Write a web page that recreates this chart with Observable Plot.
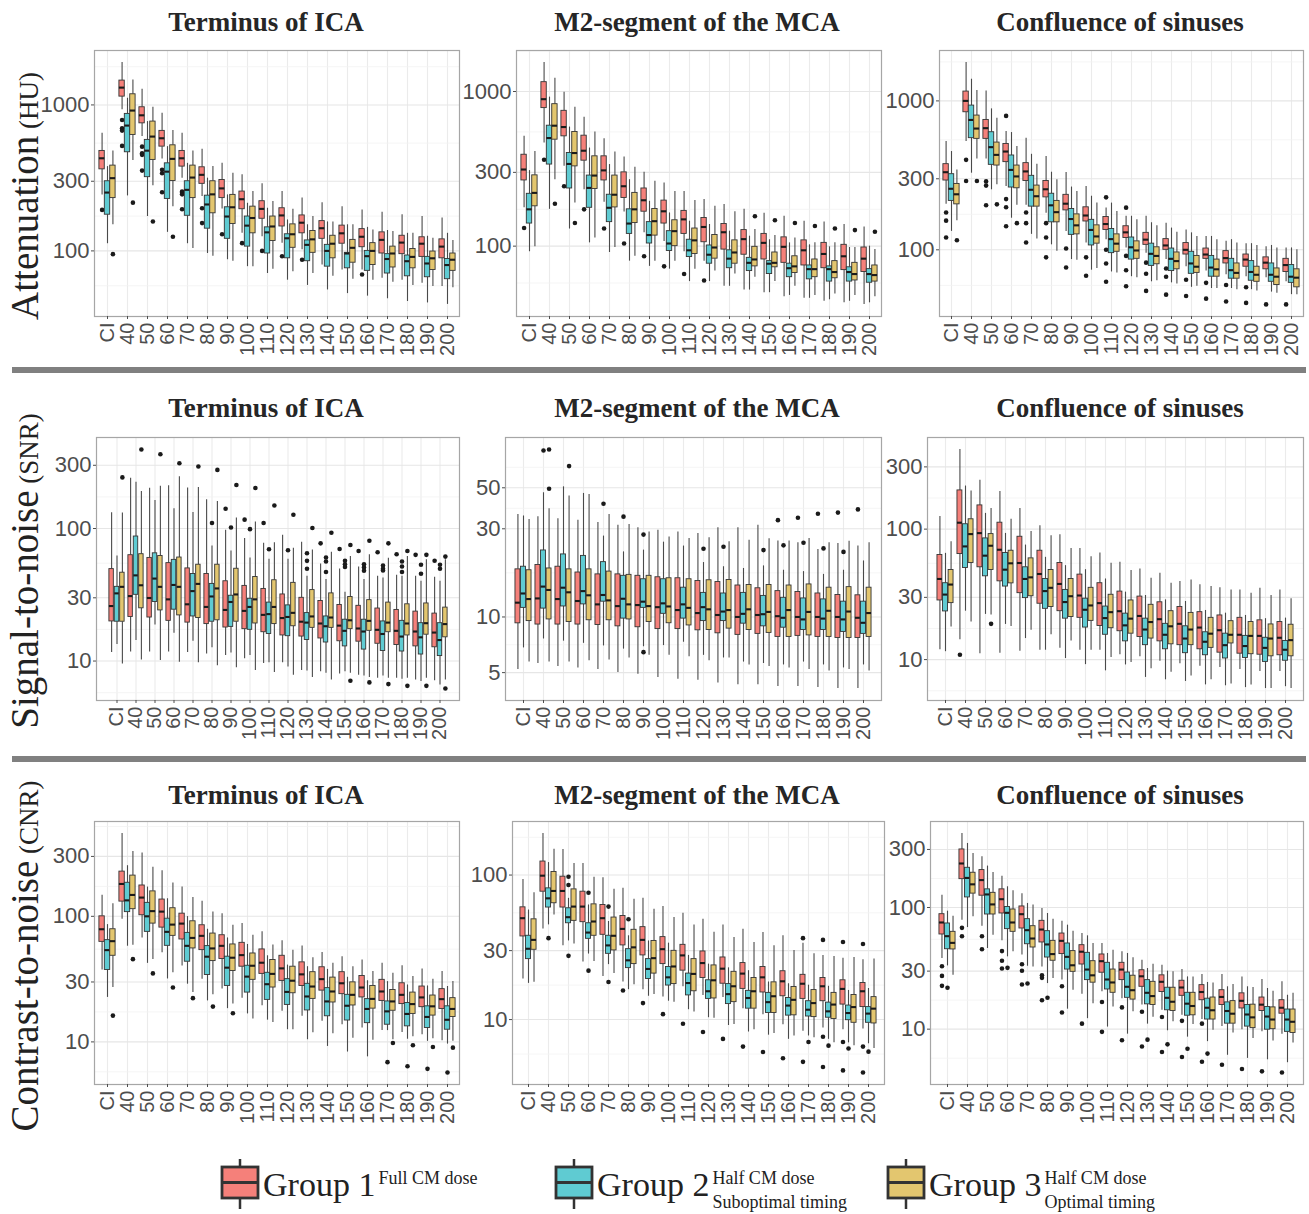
<!DOCTYPE html>
<html><head><meta charset="utf-8">
<script src="https://cdn.jsdelivr.net/npm/d3@7"></script>
<script src="https://cdn.jsdelivr.net/npm/@observablehq/plot@0.6"></script>
<style>
html,body{margin:0;padding:0;background:#fff;}
#root{position:relative;width:1309px;height:1214px;overflow:hidden;background:#fff;}
#root > svg{position:absolute;}
</style></head><body><div id="root"></div>
<script>
const categories = ["CI","40","50","60","70","80","90","100","110","120","130","140","150","160","170","180","190","200"];
const groupNames = ["Group 1","Group 2","Group 3"];
const groupNotes = [["Full CM dose"],["Half CM dose","Suboptimal timing"],["Half CM dose","Optimal timing"]];
const groupColors = ["#F5807A","#5FCBD2","#E3C66F"];
const regions = ["Terminus of ICA","M2-segment of the MCA","Confluence of sinuses"];
const measures = [["Attenuation","(HU)"],["Signal-to-noise","(SNR)"],["Contrast-to-noise","(CNR)"]];
const ticksAtt = [100,300,1000];
const ticksSnrIca = [10,30,100,300];
const ticksSnrMca = [5,10,30,50];
const ticksSnrCos = [10,30,100,300];
const ticksCnrIca = [10,30,100,300];
const ticksCnrMca = [10,30,100];
const ticksCnrCos = [10,30,100,300];

// each row: [lower whisker, Q1, median, Q3, upper whisker] per category
const att_ica_g1 = [[242,362,431,484,640],[925,1140,1314,1468,1950],[607,748,849,964,1280],[427,518,591,664,877],[315,378,431,484,640],[236,288,332,374,497],[194,230,268,306,398],[132,193,226,255,332],[125,166,194,219,288],[113,147,175,196,255],[102,132,156,175,230],[80,121,143,160,214],[74,112,132,149,201],[74,106,125,141,191],[65,96,119,134,184],[63,95,114,127,177],[60,91,112,124,172],[57,89,107,120,168]];
const att_ica_g2 = [[112,177,251,300,378],[238,474,722,868,1111],[172,320,486,576,769],[134,227,349,398,518],[112,174,262,300,398],[96,142,208,239,315],[87,121,172,199,242],[78,107,149,172,212],[70,96,134,145,196],[63,89,122,130,163],[58,85,110,118,151],[54,78,100,110,158],[51,76,96,97,151],[49,73,92,100,145],[47,70,88,95,138],[45,67,85,93,132],[44,66,82,91,126],[43,64,80,88,132]];
const att_ica_g3 = [[151,230,315,384,484],[416,623,915,1183,1483],[280,420,607,769,964],[201,301,427,529,667],[104,230,318,384,484],[92,181,244,300,378],[85,153,199,242,340],[78,132,168,201,255],[75,117,147,172,218],[72,105,130,152,193],[70,97,120,137,172],[67,89,112,127,158],[64,83,105,119,151],[63,80,100,113,139],[61,77,96,107,136],[58,76,91,103,132],[57,74,89,99,122],[56,73,87,96,118]];
const att_ica_out = [["CI",1,191],["CI",3,95],["40",1,789],["40",1,692],["40",1,667],["40",1,524],["40",3,214],["50",1,518],["50",1,467],["50",1,455],["50",1,355],["50",3,159],["60",1,359],["60",1,340],["60",1,252],["60",3,125],["70",1,255],["70",1,250],["70",1,244],["70",1,193],["80",1,196],["80",1,155],["90",1,130],["100",1,113],["110",1,100],["120",1,92],["130",1,87],["160",1,69]];

const att_mca_g1 = [[177,266,313,390,513],[464,781,892,1149,1538],[328,513,589,750,990],[232,357,414,518,681],[192,266,309,381,495],[166,205,244,300,377],[122,167,198,236,300],[107,140,168,197,256],[92,120,149,169,226],[80,106,133,152,200],[55,95,123,139,186],[52,88,111,127,173],[50,82,105,120,163],[47,78,99,114,156],[46,75,94,109,145],[44,72,89,105,143],[43,70,86,102,138],[42,68,83,98,133]];
const att_mca_g2 = [[92,140,173,218,308],[173,337,500,601,920],[129,236,340,400,589],[105,177,238,286,431],[91,143,177,215,337],[80,120,140,173,269],[74,104,118,143,195],[71,93,104,125,164],[59,85,94,110,145],[59,77,88,101,138],[55,72,83,94,125],[52,69,78,84,116],[50,66,77,80,110],[48,63,72,77,105],[46,61,71,75,102],[45,59,71,74,99],[44,59,68,73,98],[43,58,66,71,100]];
const att_mca_g3 = [[99,181,221,287,410],[269,488,601,828,1219],[190,328,400,547,792],[113,234,286,381,547],[98,178,215,286,406],[86,141,173,221,324],[80,117,145,174,263],[80,100,125,147,226],[71,89,109,130,197],[69,83,98,118,181],[66,77,91,109,167],[63,74,82,99,128],[59,73,78,91,117],[55,67,74,86,113],[48,63,71,82,105],[49,62,68,80,105],[48,60,66,78,98],[47,59,65,75,95]];
const att_mca_out = [["CI",1,131],["40",1,362],["50",1,244],["60",1,173],["70",1,130],["80",1,104],["90",1,86],["100",1,74],["110",1,66],["120",1,60],["40",3,188],["50",3,141],["140",3,156],["150",3,147],["160",3,141],["170",3,135],["180",3,130],["190",3,127],["200",3,124]];

const att_cos_g1 = [[202,292,332,376,533],[533,839,1000,1155,1808],[408,556,656,745,1167],[266,388,457,514,622],[199,290,336,382,562],[176,225,255,290,423],[133,184,204,234,330],[111,155,170,193,266],[117,136,149,166,191],[103,120,131,144,168],[95,108,117,130,168],[86,100,107,118,151],[77,93,100,111,136],[72,87,93,102,123],[68,81,88,98,114],[66,77,86,93,110],[65,74,82,89,105],[61,71,79,87,103]];
const att_cos_g2 = [[133,213,257,322,457],[327,562,745,930,1398],[253,372,489,616,884],[163,262,344,430,613],[127,195,253,314,438],[108,153,199,238,332],[86,126,161,188,264],[73,107,136,159,229],[71,95,118,138,206],[66,86,104,121,168],[61,78,94,110,152],[60,72,87,102,140],[56,69,81,97,130],[55,66,76,91,123],[55,64,73,87,117],[54,62,71,84,110],[52,61,68,81,107],[50,60,66,79,103]];
const att_cos_g3 = [[157,202,236,277,344],[408,556,652,797,1173],[273,368,434,525,765],[199,259,311,368,494],[118,195,229,270,376],[98,153,179,213,295],[85,127,146,173,246],[75,110,123,146,206],[70,97,110,127,181],[65,87,99,114,159],[62,80,91,104,145],[59,74,84,96,131],[57,70,77,91,123],[55,66,74,86,117],[54,64,70,81,111],[53,61,68,77,107],[51,58,66,75,103],[50,56,65,74,100]];
const att_cos_out = [["CI",1,178],["CI",1,157],["CI",1,121],["CI",3,116],["40",1,402],["40",1,290],["40",3,290],["50",1,288],["50",1,270],["50",1,199],["50",3,202],["60",1,793],["60",1,219],["60",1,193],["60",1,144],["60",3,151],["70",1,178],["70",1,151],["70",1,112],["80",1,151],["80",1,121],["80",1,89],["90",1,102],["90",1,76],["100",1,89],["100",1,67],["110",1,225],["110",1,100],["110",1,81],["110",1,61],["120",1,192],["120",1,91],["120",1,73],["120",1,57],["130",1,82],["130",1,69],["130",1,53],["140",1,75],["140",1,66],["140",1,50],["150",1,63],["150",1,49],["160",1,60],["160",1,47],["170",1,58],["170",1,45],["180",1,56],["180",1,44],["190",1,43],["200",1,43]];

const snr_ica_g1 = [[11.6,19.9,26,49.4,131.6],[11.7,21.5,30.9,62.9,239],[11.7,21.3,29.9,60,201],[11.7,20.1,29.2,54.8,210],[11.6,19.5,26.8,50,202],[11.3,19,25.6,45.4,165],[11,17.9,24.3,40,97],[10.4,17.4,23.9,36.9,84],[9.6,16.5,22.3,35,77.3],[9.7,15.6,21.1,31.8,89],[8.5,15.3,19.8,30,78.6],[8.3,14.8,19.2,28.4,53.9],[8,14.1,18.5,26.5,49.4],[7.8,14,17.6,26.1,51.2],[7.4,13.5,17.2,24.9,43.6],[7.4,13.2,16.9,24.3,44.3],[7.2,12.9,16.7,23.6,43.6],[7.1,12.7,16.4,22.8,42.9]];
const snr_ica_g2 = [[13.3,19.8,32.4,36.3,62],[14.3,31.6,44.3,87,223],[18.7,27.9,41.9,65,163],[16.2,24.4,37.5,58,141],[14.1,21.7,33.7,45.4,132],[12.6,19.8,30.7,38.2,73.8],[11.5,18.1,27.9,31.1,67.7],[11,17.2,25.6,29.5,60],[9.7,16,22.6,27.6,58.7],[9,15.4,21.5,26.3,58.7],[8.4,14.4,19.5,23,43.6],[8.1,13.8,18.3,21.7,41.2],[8.3,12.9,16.9,20.5,33.1],[7.7,12.2,16.7,20.5,41.2],[7.7,11.9,16,19.9,42.4],[7.3,11.8,15.3,20.1,43.6],[7,11.2,15.1,19.3,40],[6.6,10.9,14.4,19.3,40]];
const snr_ica_g3 = [[9.5,19.8,36.3,46.4,131],[10.2,25,37.3,64,190],[10.1,24.1,36.3,62,208],[9.8,22.1,36.3,60.4,246],[9.7,21.1,38.2,53.3,204],[9.2,20.3,35.3,53.3,160],[8.9,19.8,31.8,49.7,120],[8.5,19.2,29.2,43.1,112],[8.2,19,25.6,40.7,78],[7.8,18.3,23.1,38.9,71],[7.5,17.8,21.7,34.3,68.9],[7.2,17.8,21.3,32.4,66.2],[8.1,17.4,20.3,30.4,61.5],[7.5,16.9,20.1,28.8,63.3],[7.4,16.5,19.5,27.6,59.7],[7.4,15.6,19.2,26.8,61.5],[7.4,15.8,19.3,27.2,58],[7.2,15.1,19,25.3,58]];
const snr_ica_out = [["90",1,141],["100",1,116.7],["110",1,110],["140",1,77.3],["150",1,70.1],["160",1,67.7],["170",1,66.2],["180",1,64],["190",1,63.3],["200",1,57.1],
["80",2,110],["90",2,101.7],["100",2,98.9],["110",2,69.7],["120",2,68.5],["130",2,65],["130",2,57],["130",2,49.7],["140",2,60.4],["140",2,56.4],["140",2,47],["150",2,57],["150",2,53.8],["150",2,51.2],["160",2,53.8],["160",2,50.9],["160",2,48],["170",2,52.6],["170",2,49.7],["170",2,48.3],["180",2,56.4],["180",2,51.7],["180",2,47],["190",2,53.3],["190",2,45.6],["200",2,53.3],["200",2,49.7],
["CI",3,243],["40",3,395],["50",3,363],["60",3,311],["70",3,294],["80",3,277],["90",3,213],["100",3,202],["110",3,149],["120",3,127],["130",3,101],["140",3,92.8],["150",3,75],["150",3,7.1],["160",3,80.9],["160",3,6.9],["170",3,77.3],["170",3,6.7],["180",3,67.7],["180",3,6.5],["190",3,63.3],["190",3,6.5],["200",3,61.4],["200",3,6.2]];

const snr_mca_g1 = [[5.2,9.24,11.95,18.1,35.8],[5.6,9.1,12.6,19.1,34.9],[5.4,9.1,12.5,18.7,34],[5.3,9.1,12.2,17.4,33.4],[5.2,9.05,11.7,17,32.4],[5,8.9,11.45,17,31.4],[4.9,8.8,11.6,16.7,30.4],[4.7,8.6,11.3,16.4,29.5],[4.6,8.6,10.9,16.2,28.8],[4.55,8.47,10.5,15.65,28.3],[4.4,8.16,10.25,15.45,30.4],[4.3,8,10,14.8,30.4],[4.3,8.1,10.25,14.3,31.4],[4.2,7.8,10.1,13.8,25.8],[4.2,7.9,10,13.65,25.2],[4.15,7.8,10,13.4,23.2],[4.1,7.7,10,13.15,25],[4.1,7.7,9.9,13.1,24.2]];
const snr_mca_g2 = [[6.8,11.2,13.4,18.7,35.2],[7.6,11.1,14.6,22.9,47],[7.4,11.4,14.4,21.8,50.6],[7.2,11.7,13.8,21.4,46.6],[6.97,12.1,13.15,19.8,27.4],[6.7,9.8,12.55,16.7,22.5],[6.9,11.2,12.1,16,23],[7,10.4,11.85,16,25.4],[7.3,9.8,11.7,14.4,24.2],[6.2,9.5,11.3,13.5,19.7],[6,9.5,10.7,13.4,18.7],[5.7,9.2,10.4,13.5,18.3],[5.6,8.9,10.35,13,18.9],[5.5,8.75,9.9,12.7,17.9],[5.7,8.5,9.7,12.6,17.6],[5.5,8.5,9.8,12.45,17],[5.3,8.3,9.7,12.1,17.9],[5.5,8.1,9.3,12.1,20.1]];
const snr_mca_g3 = [[5.7,9.5,12.5,17.9,33.7],[5.7,9.7,14,18.3,38.5],[5.7,9.4,13.6,18.1,45.1],[5.8,9.6,13.1,18.1,46],[5.85,9.6,12.3,17.6,35.8],[6,9.7,11.7,16.9,31.6],[6.2,9.4,11.45,16.7,28.8],[6.2,9.25,11.4,16.2,27.1],[6.1,9,11.2,16,26.6],[5.8,8.5,11,15.8,26.8],[6,8.65,10.9,15.85,25.5],[5.5,8.5,11,14.9,26],[5.4,8.2,10.65,14.9,26.5],[5.3,7.8,10.9,14.8,25.8],[5.2,7.95,10.65,15,26.6],[5.1,7.8,10.8,14.4,25.2],[5.2,7.7,10.7,14.5,25.7],[5.1,7.8,10.5,14.4,25.2]];
const snr_mca_out = [["160",1,33.4],["170",1,34.4],["180",1,36.2],["190",1,36.7],["200",1,38.2],
["40",2,79.6],["70",2,41],["80",2,34.9],["90",2,27.9],["90",2,6.45],["120",2,23.4],["130",2,24],["150",2,23],["160",2,24.4],["170",2,25.2],["180",2,23.5],["190",2,22.5],
["40",3,80.6],["40",3,49.4],["50",3,65.5]];

const snr_cos_g1 = [[11.9,28.4,41.5,63.3,125],[14.2,64.4,112,198,408],[11.1,51,93.2,152,237],[11.2,39.8,69.5,112,194],[11.6,32.3,55,87.4,144],[11.8,26.8,45.3,68.3,106],[12.2,23.5,38,55,90.5],[11.8,20.9,31,44.8,71.2],[11.8,18.1,27.1,38.5,65.6],[10.9,16.5,23.5,33.2,55.7],[10.5,14.9,21.6,30.4,49.5],[9.7,13.8,20.4,27.5,45.9],[9.3,12.9,18.8,25.3,39.6],[8.9,12,17.6,23.1,37.4],[8.7,11.3,16.8,21.8,35.5],[8.4,11.1,15.5,20.9,34.2],[8.1,10.9,15.2,20,35.3],[8.1,10.8,14.7,19.4,34.2]];
const snr_cos_g2 = [[11.5,23.4,31.5,38.5,65.2],[23.5,50.4,73.7,109,214],[22.2,43.5,62.6,84.9,132],[18.6,36.3,48.9,65.6,92.7],[14.5,29.6,41.5,51,75.5],[11.8,24.5,33.5,41.5,60.8],[10.2,20.6,27.6,34.2,52.5],[9.15,17.6,24.1,29.3,48.9],[8.2,15.5,20.8,25.5,41.5],[9.1,13.8,18.3,22.5,32.9],[7.3,12.9,17,20.6,31],[7,12,15.5,18.8,28.7],[6.8,11.2,14.5,18,27.9],[6.4,10.8,13.7,16.2,23.8],[6.3,10.2,12.9,15.8,22.7],[6.1,10.3,12.7,15.2,21.8],[6,9.6,12.3,14.7,20.6],[6.2,9.8,11.9,13.9,20.8]];
const snr_cos_g3 = [[17.8,27.1,37.6,48.6,80],[19.4,55,91.6,119,196],[22,48.6,74.6,91.6,144],[17.9,38.4,54.7,68.3,119],[16.8,30.6,42.7,59.7,96],[15.5,25.3,35.5,48.6,89],[13.9,21.2,30.6,41.5,71.2],[11.8,19.8,26,35.5,61.5],[10.4,17.4,23.1,31.4,54.7],[9.5,15.8,20.6,28.4,48.1],[8.5,14.5,19.4,26.3,42.1],[8,13.1,18,23.5,38.5],[7.5,12.9,17,22.8,40.8],[7,12.3,15.8,20.9,36.3],[6.5,13.3,15.5,19.7,34.2],[6.4,11,15.2,19.4,32.3],[6,10.6,14.5,18.6,31],[6,10.6,14.1,18.5,29.3]];
const snr_cos_out = [["40",1,10.9],["50",3,18.8]];

const cnr_ica_g1 = [[37.4,62.6,78.9,100,147],[94.7,131,181,227,457],[67.3,102,141,176,319],[51.3,81.3,109,136,231],[40.2,65.4,87.5,105,171],[31.6,53.8,69.9,84.9,132],[26.4,45.7,58.2,70.7,105],[22.3,39.7,49.1,61.5,87.5],[19.4,34.8,42.7,54.5,75.2],[17.5,30.6,38.5,48.5,63.8],[16,27.9,34.5,43,57.9],[14.6,25.6,31.6,39.3,51.6],[13.7,24,29.3,35.9,47.7],[12.9,22.6,27.1,33.5,44.9],[12.3,21.2,25.2,31.2,42.2],[11.9,20,23.7,29.3,40.4],[11.4,18.9,22.6,27.6,38],[10.2,18.3,21.9,26.3,36.3]];
const cnr_ica_g2 = [[22.6,37.4,53.8,64.6,85.9],[57.8,108,134,185,253],[42.2,75.2,100,128,171],[31.7,58.2,75.2,95.8,138],[28.8,43.5,58.2,73.8,99.5],[21.2,34.1,47.7,57.9,78.9],[18.4,27.9,39,47.7,67.3],[16.7,24.7,33.1,40.4,59.7],[14.9,21.6,28.8,35.5,48.5],[12.5,19.7,25,31.6,40.9],[10.4,17.8,23,29,39.7],[9.2,16,21,26.8,37.8],[8.3,14.8,19.4,23.7,32.7],[7.6,14.1,18.3,21.9,30.7],[12.3,13.7,17.5,21,30.2],[10.5,13.3,16.7,20.4,28.4],[10.1,12.9,15.8,19.2,27.9],[9.6,12.5,15,19.2,27.6]];
const cnr_ica_g3 = [[27.1,48.5,63.4,78.9,126],[58.9,114,148,211,329],[45.4,87.5,110,158,246],[35.5,69.9,85.9,116,184],[24.7,55.5,67.3,91.3,141],[23.7,44,55.5,72.9,108],[20,36.7,46.8,59.7,84.9],[15.2,31.2,40.4,50.6,70.7],[14.3,27.1,34.8,44.9,59],[12.5,24.4,30.7,39.7,53.8],[11.8,22,27.6,35.9,46.8],[11.6,20.6,25.2,32.5,42.2],[10.7,19.5,23.7,29.8,39.7],[10.3,18.4,22,27.9,36.3],[10.4,17.7,21,25.9,35.2],[11,16.7,20,24.7,33.1],[10.6,16.2,19.2,23.4,31.6],[10.1,15.8,18.3,22.3,30.2]];
const cnr_ica_out = [["170",2,6.9],["180",2,6.4],["190",2,6.1],["200",2,5.7],
["CI",3,16.2],["40",3,45.6],["50",3,35.1],["60",3,27.1],["70",3,22.3],["80",3,19.1],["90",3,16.9],["170",3,9.8],["180",3,9.4],["190",3,9.1],["200",3,9]];

const cnr_mca_g1 = [[19.1,37.6,50.3,59.8,93.3],[42.4,76.7,99,124,194],[32.4,59.6,77.6,97.4,150],[25,47.2,60.5,76.7,120],[19.9,38.6,50.3,62.1,95.9],[18.2,32.6,42.4,52.1,80.9],[16.1,27.8,35.6,43.6,69],[14.3,24.2,30.7,37.2,60.5],[16.9,21.8,27.8,32.9,54.4],[14.7,19.4,24.6,29.6,49.5],[14.2,17.7,22.5,26.9,45.2],[11.9,16.3,20.8,24.6,42.2],[10.8,15.4,19.6,23.1,40],[9.2,14.5,18.4,21.6,38],[8.3,13.9,17.7,20.4,33.8],[8.75,13.4,17,19.4,27.8],[8.5,12.7,16.3,18.7,26.6],[8.6,12.2,15.7,17.9,25.9]];
const cnr_mca_g2 = [[17.8,26.2,30.9,38,57.3],[45.2,59.6,69,80.9,122],[35,46.4,51.1,58.9,69],[28.4,36.2,40,46.4,62.1],[24,28.5,32.6,38,47.7],[16.1,22.7,25.7,30.7,38],[14.5,19.1,22.4,26.2,35],[13.4,17.2,19.6,23.1,33.8],[11.7,14.7,17.9,20.8,27.8],[10.3,13.9,15.7,18.7,24.2],[9.1,12.8,15,17.6,22.8],[8.2,11.9,14.1,15.8,21.8],[7.8,11.1,13.2,15.3,18.2],[7.3,10.65,12.5,14.1,17.7],[7.7,10.5,11.7,13.4,17.3],[7.3,10.3,11.4,13.1,17],[6.9,9.9,11.1,12.5,15.9],[6.8,9.5,11,12.2,16.4]];
const cnr_mca_g3 = [[18.1,30.4,35.6,49.4,75.5],[52.9,63.8,77.6,105,151],[33.3,48.2,60.5,79.6,120],[25.2,38,47.7,62.7,96.4],[20.8,30.1,38,50.8,79.6],[17.4,24.2,31.6,41.8,68],[14.9,20.8,26.6,35,58],[13.2,17.6,23.3,29.9,50.8],[11.3,15.7,20.7,26.2,45.2],[10.2,14,18.7,23.7,40.2],[9.25,13.2,17,21.4,37],[8.5,11.9,15.7,19.4,34.1],[8,11.1,14.5,18.1,32.4],[7.7,10.7,13.7,16.8,30],[7.5,10.4,13,16,28.5],[6.9,10.1,12.7,15.3,27.3],[6.6,9.5,12.2,14.8,26.9],[6.3,9.4,11.9,14.3,26.2]];
const cnr_mca_out = [["80",1,15.9],["90",1,13],["100",1,10.9],["110",1,9.35],["120",1,8.2],["130",1,7.35],["140",1,6.5],["150",1,5.97],["160",1,5.4],["170",1,36.6],["170",1,5.1],["180",1,35.6],["180",1,7.6],["180",1,4.7],["190",1,34.4],["190",1,7],["190",1,4.45],["200",1,33.3],["200",1,6.5],["200",1,4.3],
["40",2,36.6],["50",2,97.4],["50",2,85.3],["50",2,27.6],["60",2,75.5],["60",2,21.8],["70",2,60.5],["70",2,18.2],["80",2,49.5],["170",2,7],["180",2,6.6],["190",2,6.3],["200",2,6]];

const cnr_cos_g1 = [[38.1,60,75.3,88.1,126],[78.7,171,230,300,406],[70.2,125,168,203,261],[53.2,89.3,117,141,181],[40.6,67.2,88.1,102,130],[32.5,51.6,65.9,77.7,98.1],[25.3,41.4,53.2,61.1,77.2],[19.4,34,43.3,49,61.1],[20.3,29.1,36.2,41.1,50.6],[17.8,25.3,30.9,35.1,43.3],[15.8,22.3,27.2,30.5,36.9],[14.3,20.2,24.5,27.7,33.5],[13,18.8,22,25,30.9],[12,17.3,20.2,23,28.1],[10.5,15.8,18.4,20.9,28.1],[9.9,14.8,17.1,19.7,26.9],[9.5,14.1,15.9,18.2,25.6],[9.1,13.4,15,17.3,24.5]];
const cnr_cos_g2 = [[33.1,45.4,58.1,73.9,93.3],[68.4,121,175,212,336],[46,87.6,128,141,219],[39.3,66.4,90.4,101,148],[32.9,49.9,65.1,80.2,108],[23.7,38.8,49.7,63.9,89.3],[14.6,30.9,39.3,50.6,71.6],[12.2,25.3,30.9,42.4,58.5],[10.4,21.2,25.6,35.1,41.9],[9.1,18.1,22.3,29.2,41.9],[11,16,19.9,25.3,31.5],[9.7,14.3,18.1,21.9,30],[8.6,12.9,16.2,19.9,26.9],[7.9,12,15,17.8,24.2],[6.1,11.1,14.1,16.6,22.3],[5.75,10.5,13.2,15.8,22.3],[5.6,9.9,12.7,15.2,21.6],[5.3,9.5,12,14.5,19]];
const cnr_cos_g3 = [[27.8,45.2,51.2,63.1,84.9],[83.8,130,155,193,278],[59.2,87.6,106,132,194],[43.3,63.1,75.3,96.3,137],[32.5,46.9,55.6,70.2,105],[26.1,36.5,41.4,53.2,80.2],[20.9,29.6,33.5,43.8,63.9],[16.2,24.1,27.7,36.2,50.6],[15.2,19.9,24.2,30.9,44.6],[13.9,17.5,20.9,27.5,38.6],[12.5,15.8,18.7,24.5,34.2],[11.5,14.1,16.8,21.9,29.6],[10.9,13,15.5,19.9,26.9],[9.8,12,14.3,18.2,24],[9.3,11.1,13.4,17,23.3],[8.4,10.2,12.5,15.9,22],[8,10,12,15.1,20.5],[7.7,9.3,11.5,14.5,19.7]];
const cnr_cos_out = [["CI",1,32.9],["CI",1,27.4],["CI",1,22.7],["40",1,68],["40",1,58.1],["50",1,58.1],["50",1,45.4],["60",1,43.8],["60",1,36.5],["60",1,31.5],["70",1,34.2],["70",1,30.2],["70",1,23.3],["80",1,27.7],["80",1,26.4],["80",1,17.3],["90",1,22.5],["90",1,13.7],["100",1,11.1],["110",1,16.7],["110",1,9.5],["120",1,15.1],["120",1,8.1],["130",1,13.9],["130",1,7.2],["140",1,12.6],["140",1,6.5],["150",1,11.7],["150",1,5.9],["160",1,11.1],["160",1,5.4],["170",1,5.1],["180",1,4.7],["190",1,4.5],["200",1,4.4],
["CI",2,21.9],["60",2,31.9],["70",2,23.7],["80",2,18.1],["130",2,8.2],["140",2,7.5],["150",2,6.9],["160",2,6.3]];

// ---------- layout ----------
const rowsLayout = [
  {top: 50, bottom: 316, cols: [[94, 459], [516, 881], [939, 1303]], titleY: 31, labelY: 196},
  {top: 437, bottom: 700, cols: [[96, 459], [505, 881], [927, 1303]], titleY: 417, labelY: 571},
  {top: 821, bottom: 1084, cols: [[94, 459], [512, 884], [930, 1303]], titleY: 804, labelY: 956}
];
const titleX = [266, 697, 1120];

const panels = [
  [[att_ica_g1, att_ica_g2, att_ica_g3, att_ica_out, ticksAtt], [att_mca_g1, att_mca_g2, att_mca_g3, att_mca_out, ticksAtt], [att_cos_g1, att_cos_g2, att_cos_g3, att_cos_out, ticksAtt]],
  [[snr_ica_g1, snr_ica_g2, snr_ica_g3, snr_ica_out, ticksSnrIca], [snr_mca_g1, snr_mca_g2, snr_mca_g3, snr_mca_out, ticksSnrMca], [snr_cos_g1, snr_cos_g2, snr_cos_g3, snr_cos_out, ticksSnrCos]],
  [[cnr_ica_g1, cnr_ica_g2, cnr_ica_g3, cnr_ica_out, ticksCnrIca], [cnr_mca_g1, cnr_mca_g2, cnr_mca_g3, cnr_mca_out, ticksCnrMca], [cnr_cos_g1, cnr_cos_g2, cnr_cos_g3, cnr_cos_out, ticksCnrCos]]
];

const root = document.getElementById("root");
const ML = 64, MR = 4, MT = 6, MB = 50;

function drawPanel(spec, top, bottom, x0, x1) {
  const [g1, g2, g3, outl, ticks] = spec;
  const rows = [];
  [g1, g2, g3].forEach((arr, g) => arr.forEach((s, i) => rows.push({cat: categories[i], g, lo: s[0], q1: s[1], med: s[2], q3: s[3], hi: s[4]})));
  const outs = outl.map(([c, g, v]) => ({cat: c, g: g - 1, v}));
  const vals = rows.flatMap(r => [r.lo, r.hi]).concat(outs.map(o => o.v));
  const lmin = Math.log10(d3.min(vals)), lmax = Math.log10(d3.max(vals)), pad = (lmax - lmin) * 0.05;
  const domain = [10 ** (lmin - pad), 10 ** (lmax + pad)];
  const lt = ticks.map(Math.log10);
  const ext = [2 * lt[0] - lt[1], ...lt, 2 * lt[lt.length - 1] - lt[lt.length - 2]];
  const minors = d3.pairs(ext).map(([a, b]) => 10 ** ((a + b) / 2)).filter(v => v > domain[0] && v < domain[1]);
  const width = x1 - x0 + ML + MR, height = bottom - top + MT + MB;
  const step = (x1 - x0) / 18.2;
  const marks = [
    Plot.ruleX(categories, {stroke: "#ebebeb", strokeWidth: 1.1}),
    Plot.ruleY(minors, {stroke: "#f3f3f3", strokeWidth: 0.8}),
    Plot.ruleY(ticks, {stroke: "#e6e6e6", strokeWidth: 1.1})
  ];
  for (let g = 0; g < 3; g++) {
    const d = rows.filter(r => r.g === g);
    const off = (g - 1) * 0.27 * step, half = 0.135 * step;
    const inset = {insetLeft: step / 2 + off - half, insetRight: step / 2 - off - half};
    marks.push(Plot.ruleX(d, {x: "cat", y1: "lo", y2: "q1", dx: off, stroke: "#4a4a4a", strokeWidth: 1.1}));
    marks.push(Plot.ruleX(d, {x: "cat", y1: "q3", y2: "hi", dx: off, stroke: "#4a4a4a", strokeWidth: 1.1}));
    marks.push(Plot.barY(d, {x: "cat", y1: "q1", y2: "q3", fill: groupColors[g], stroke: "#333", strokeWidth: 0.9, ...inset}));
    marks.push(Plot.tickY(d, {x: "cat", y: "med", stroke: "#1a1a1a", strokeWidth: 2.1, ...inset}));
    marks.push(Plot.dot(outs.filter(o => o.g === g), {x: "cat", y: "v", dx: off, r: 2.3, fill: "#1a1a1a", stroke: "none"}));
  }
  marks.push(Plot.frame({stroke: "#a6a6a6", strokeWidth: 1.2}));
  marks.push(Plot.axisY({ticks, tickFormat: d => String(d), tickSize: 3, tickPadding: 2, fontSize: 22, label: null}));
  marks.push(Plot.axisX({tickRotate: -90, tickSize: 3, tickPadding: 3, fontSize: 20, label: null}));
  const svg = Plot.plot({
    width, height, marginLeft: ML, marginRight: MR, marginTop: MT, marginBottom: MB,
    x: {type: "band", domain: categories, paddingInner: 0, paddingOuter: 0.1},
    y: {type: "log", domain},
    style: {fontFamily: "'Liberation Sans', Arial, sans-serif", color: "#4d4d4d", background: "transparent", overflow: "visible"},
    marks
  });
  svg.style.left = (x0 - ML) + "px";
  svg.style.top = (top - MT) + "px";
  svg.style.position = "absolute";
  root.appendChild(svg);
}

rowsLayout.forEach((r, ri) => r.cols.forEach(([x0, x1], ci) => drawPanel(panels[ri][ci], r.top, r.bottom, x0, x1)));

// ---------- overlay: titles, row labels, separators, legend ----------
const ov = d3.select(root).append("svg").attr("width", 1309).attr("height", 1214)
  .style("left", "0px").style("top", "0px").style("pointer-events", "none")
  .style("font-family", "'Liberation Serif', 'DejaVu Serif', serif");

rowsLayout.forEach((r, ri) => {
  regions.forEach((t, ci) => {
    ov.append("text").attr("x", titleX[ci]).attr("y", r.titleY).attr("text-anchor", "middle")
      .attr("font-size", 27).attr("font-weight", "bold").attr("fill", "#262626").text(t);
  });
  const lab = ov.append("text").attr("transform", `translate(38,${r.labelY}) rotate(-90)`)
    .attr("text-anchor", "middle").attr("fill", "#222");
  lab.append("tspan").attr("font-size", 39).text(measures[ri][0]);
  lab.append("tspan").attr("font-size", 27).text(" " + measures[ri][1]);
});

[370, 759].forEach(y => ov.append("line").attr("x1", 12).attr("x2", 1306).attr("y1", y).attr("y2", y)
  .attr("stroke", "#808080").attr("stroke-width", 6));

const legendX = [222, 556, 888];
groupNames.forEach((name, g) => {
  const ix = legendX[g];
  const gg = ov.append("g");
  gg.append("line").attr("x1", ix + 18).attr("x2", ix + 18).attr("y1", 1159).attr("y2", 1209).attr("stroke", "#333").attr("stroke-width", 2.5);
  gg.append("rect").attr("x", ix).attr("y", 1167).attr("width", 36).attr("height", 31)
    .attr("fill", groupColors[g]).attr("stroke", "#333").attr("stroke-width", 2.8);
  gg.append("line").attr("x1", ix).attr("x2", ix + 36).attr("y1", 1182.5).attr("y2", 1182.5).attr("stroke", "#333").attr("stroke-width", 2.8);
  const t = gg.append("text").attr("x", ix + 41).attr("y", 1196).attr("font-size", 34).attr("fill", "#222").text(name);
  const w = t.node().getComputedTextLength();
  groupNotes[g].forEach((note, k) => {
    gg.append("text").attr("x", ix + 41 + w + 3).attr("y", k === 0 ? 1184 : 1208)
      .attr("font-size", 18).attr("fill", "#222").text(note);
  });
});
</script></body></html>
